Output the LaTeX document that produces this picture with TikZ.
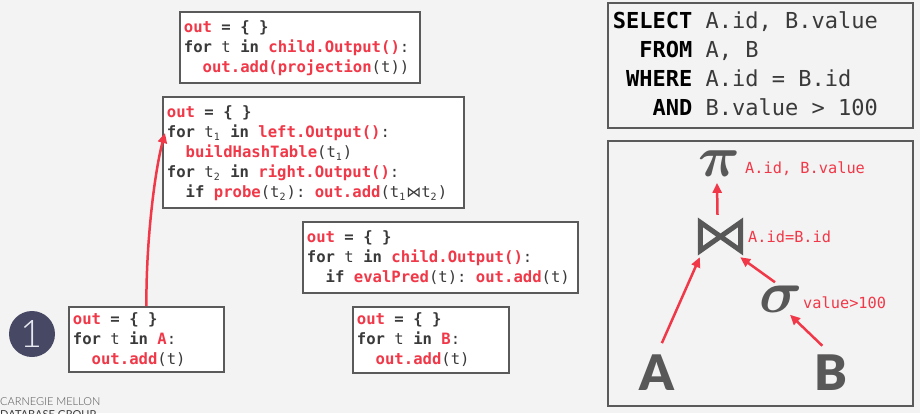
\documentclass[tikz,border=0pt]{standalone}
\usepackage{amsmath}
\usepackage{fontspec}
\setmonofont{DejaVu Sans Mono}
\newfontfamily\symfont{Lato}[UprightFont={* Black}]
\newfontfamily\numfont{Lato}[UprightFont={* Light}]
\newfontfamily\footfont{Lato}
\newfontfamily\djs{DejaVu Sans}
\usetikzlibrary{arrows.meta}
\definecolor{cred}{RGB}{240,56,72}
\definecolor{ctext}{RGB}{58,58,58}
\definecolor{cbox}{RGB}{90,90,90}
\definecolor{cbg}{RGB}{243,243,243}
\definecolor{csym}{RGB}{88,88,88}
\definecolor{cnavy}{RGB}{70,72,100}
\definecolor{cfoot}{RGB}{80,80,80}
\newcommand\codefont{\ttfamily\fontsize{15.6}{20}\selectfont}
\newcommand\sqlfont{\ttfamily\fontsize{22}{29}\selectfont}
\newcommand\rd[1]{\textcolor{cred}{\textbf{#1}}}
\newcommand\kw[1]{\textbf{#1}}
\newcommand\tsub[1]{\makebox[0.45em][l]{\raisebox{-0.35ex}{\fontsize{10}{10}\selectfont #1}}}
\newcommand\fixsp{\spaceskip=0pt\xspaceskip=0pt\relax}
\newcommand\fl{\fixsp\rule{0pt}{14pt}}
\newcommand\lld{\rule[-4pt]{0pt}{4pt}}
\newcommand\ind{\phantom{xx}}
\newcommand\bow{{\djs\fontsize{15}{15}\selectfont ⋈}}
\begin{document}
\begin{tikzpicture}[x=1pt,y=-1pt,
  codebox/.style={draw=cbox, line width=1.8pt, fill=white, anchor=north west,
    align=left, inner xsep=4pt, inner ysep=0pt, font=\codefont, text=ctext},
  panel/.style={draw=cbox, line width=1.8pt, fill=cbg, anchor=north west, inner sep=0pt},
  arr/.style={draw=cred, line width=2.5pt, -{Triangle[length=10pt,width=9pt]}},
  lbl/.style={anchor=base west, inner sep=0pt, text=cred, font=\ttfamily\fontsize{15.3}{15}\selectfont},
  bigsym/.style={inner sep=0pt, text=csym, font=\Huge},
  letter/.style={anchor=base, inner sep=0pt, text=csym, font=\symfont\fontsize{49}{49}\selectfont}
]
\useasboundingbox (0,0) rectangle (920,413);
\fill[cbg] (0,0) rectangle (920,413);

% code boxes
\node[codebox, text width=232pt, minimum height=71pt] (b1) at (179,11)
  {\fl\rd{out} \kw{= \{ \}}\\
   \kw{for} t \kw{in} \rd{child.Output()}:\\
   \ind\rd{out.add(projection}(t))\lld};
\node[codebox, text width=293pt, minimum height=111pt] (b2) at (162,96)
  {\fl\rd{out} \kw{= \{ \}}\\
   \kw{for} t\tsub{1} \kw{in} \rd{left.Output()}:\\
   \ind\rd{buildHashTable}(t\tsub{1})\\
   \kw{for} t\tsub{2} \kw{in} \rd{right.Output()}:\\
   \ind\kw{if} \rd{probe}(t\tsub{2}): \rd{out.add}(t\tsub{1}\bow t\tsub{2})\lld};
\node[codebox, text width=267pt, minimum height=71pt] (b3) at (302,221)
  {\fl\rd{out} \kw{= \{ \}}\\
   \kw{for} t \kw{in} \rd{child.Output()}:\\
   \ind\kw{if} \rd{evalPred}(t): \rd{out.add}(t)\lld};
\node[codebox, text width=147pt, minimum height=65pt] (b4) at (68,306)
  {\fl\rd{out} \kw{= \{ \}}\\
   \kw{for} t \kw{in} \rd{A}:\\
   \ind\rd{out.add}(t)\lld};
\node[codebox, text width=148pt, minimum height=66pt] (b5) at (352,306)
  {\fl\rd{out} \kw{= \{ \}}\\
   \kw{for} t \kw{in} \rd{B}:\\
   \ind\rd{out.add}(t)\lld};

\coordinate (b2in) at ([shift={(3,37)}]b2.north west);
\draw[arr] (b4.north) .. controls (146,240) and (155,170) .. (b2in);

% step number
\node[circle, fill=cnavy, minimum size=46pt, inner sep=0pt, text={rgb,255:red,232;green,232;blue,240},
  font=\numfont\fontsize{38}{38}\selectfont] (num) at (32,334) {1};

% footer
\node[anchor=base west, inner sep=0pt, text=cfoot, font=\numfont\fontsize{11}{11}\selectfont] (cmu) at (0,405) {CARNEGIE MELLON};
\node[anchor=base west, inner sep=0pt, text=ctext, font=\footfont\fontsize{11}{11}\selectfont] (dbg) at (0,418) {DATABASE GROUP};

% SQL box
\node[panel, fill=cbg, minimum width=305pt, minimum height=125pt, align=left, inner xsep=5pt,
  text width=295pt, font=\sqlfont, text=ctext] (sql) at (607,2)
  {\fixsp\rule{0pt}{20pt}\textcolor{black}{\textbf{SELECT}} A.id, B.value\\
   \ind\textcolor{black}{\textbf{FROM}} A, B\\
   \phantom{x}\textcolor{black}{\textbf{WHERE}} A.id = B.id\\
   \phantom{xxx}\textcolor{black}{\textbf{AND}} B.value > 100\rule[-6pt]{0pt}{6pt}};

% tree panel
\node[panel, minimum width=305pt, minimum height=265pt] (tree) at (607,140) {};

\node[bigsym, scale=2.33] (pi) at (719,163.5) {$\boldsymbol{\pi}$};
\node[lbl] (pil) at (745,173) {A.id, B.value};

\node[inner sep=0pt, minimum width=45pt, minimum height=33pt] (join) at (720.5,236.5) {};
\draw[csym, line width=5pt, line join=miter]
  ([shift={(2.5,2.5)}]join.north west) -- ([shift={(-2.5,-2.5)}]join.south east)
  -- ([shift={(-2.5,2.5)}]join.north east) -- ([shift={(2.5,-2.5)}]join.south west) -- cycle;
\node[lbl] (joinl) at (748,242) {A.id=B.id};

\node[bigsym, scale=2.4] (sigma) at (781,299) {$\boldsymbol{\sigma}$};
\node[lbl] (sigl) at (803,308) {value>100};

\node[letter] (A) at (657,390) {A};
\node[letter] (B) at (831,390) {B};

\draw[arr, shorten <=12pt] (A.north) -- ([shift={(2,4)}]join.south west);
\draw[arr] ([shift={(-6,-3)}]sigma.north) -- ([shift={(-3,4)}]join.south east);
\draw[arr, shorten <=12pt] (B.north) -- ([shift={(9,2)}]sigma.south);
\draw[arr] ([shift={(-3,-5)}]join.north) -- ([shift={(-2,6)}]pi.south);
\end{tikzpicture}
\end{document}
